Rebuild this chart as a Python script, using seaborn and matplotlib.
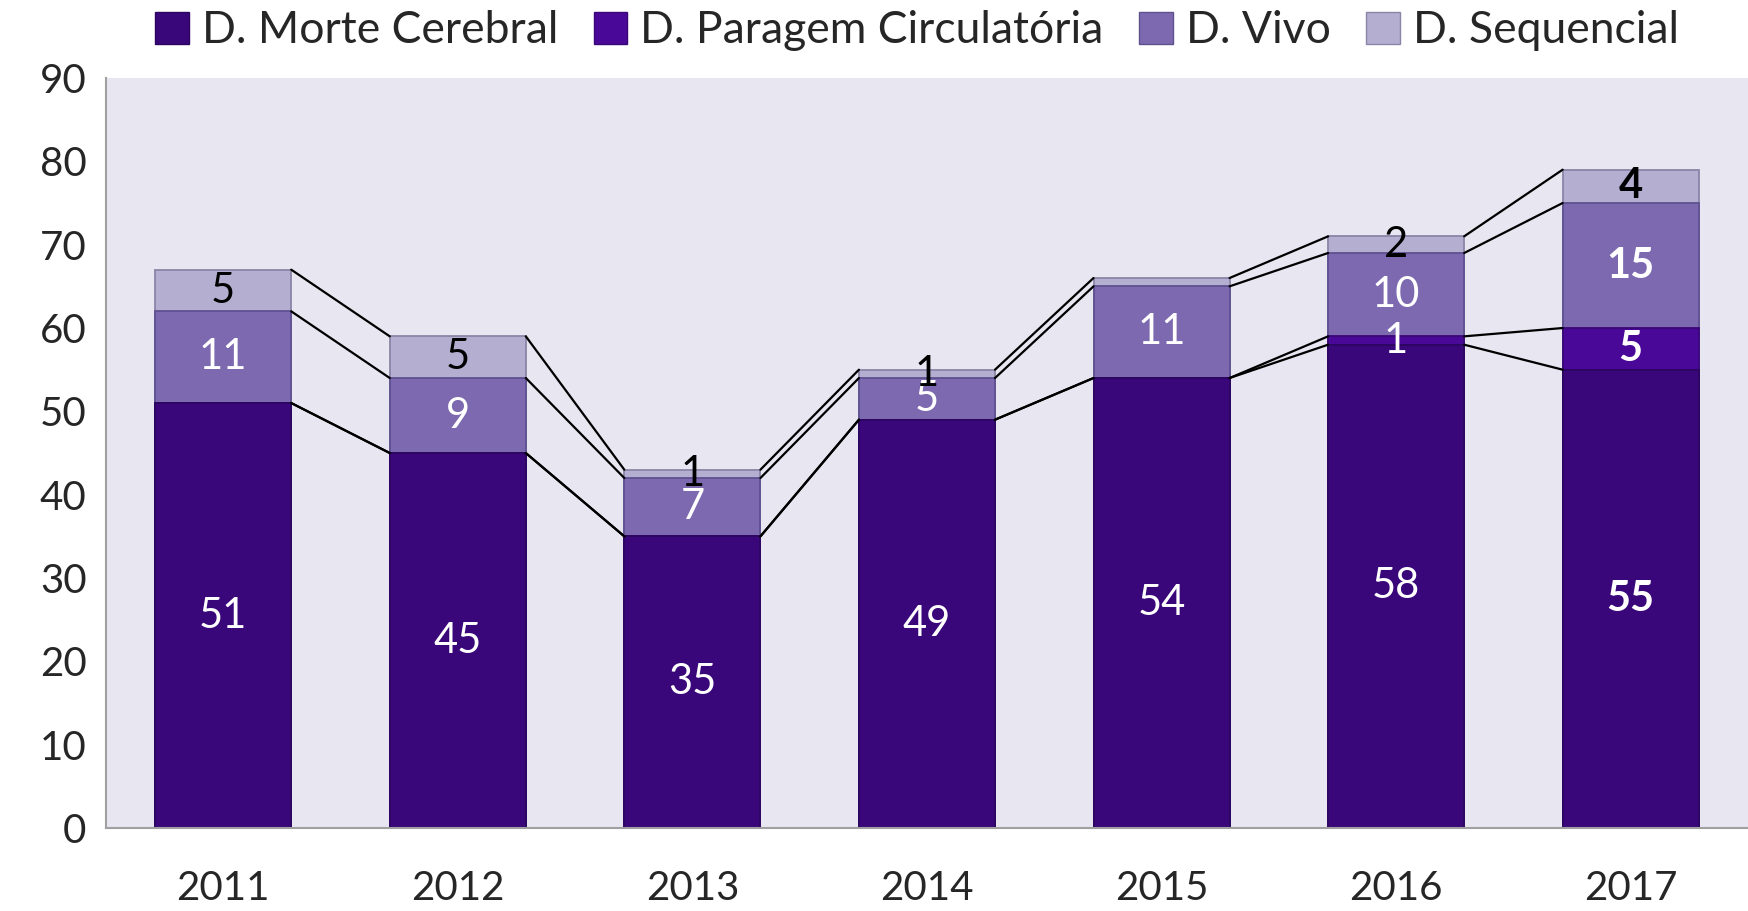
import matplotlib
matplotlib.use("Agg")
import matplotlib.pyplot as plt
import seaborn as sns
import pandas as pd
import numpy as np
from matplotlib.patches import Patch

years = ['2011', '2012', '2013', '2014', '2015', '2016', '2017']
morte = [51, 45, 35, 49, 54, 58, 55]
paragem = [0, 0, 0, 0, 0, 1, 5]
vivo = [11, 9, 7, 5, 11, 10, 15]
seq = [5, 5, 1, 1, 1, 2, 4]
seq_shown = [True, True, True, True, False, True, True]

names = ['D. Morte Cerebral', 'D. Paragem Circulatória', 'D. Vivo', 'D. Sequencial']
colors = ['#39077a', '#4a0898', '#7d69b0', '#b4aed0']
edges = ['#2c0560', '#3a0778', '#5f5090', '#8a85a6']
text_colors = ['white', 'white', 'white', 'black']

sns.set_theme(style="white")
plt.rcParams['font.family'] = ['Lato', 'DejaVu Sans']

series = [morte, paragem, vivo, seq]
tops = np.cumsum(np.array(series), axis=0)

fig = plt.figure(figsize=(17.48, 9.11), dpi=100)
ax = fig.add_axes([0.0606, 0.091, 0.9394, 0.8234])
ax.set_facecolor('#e8e6f0')

width = 0.58
# draw cumulative totals from top series down so lower ones sit on top
for k in range(3, -1, -1):
    df = pd.DataFrame({'year': years, 'val': tops[k]})
    sns.barplot(data=df, x='year', y='val', color=colors[k], saturation=1,
                width=width, edgecolor=edges[k], linewidth=1.3, ax=ax)

# series lines between bars
for k in range(4):
    for i in range(len(years) - 1):
        ax.plot([i + width / 2, i + 1 - width / 2], [tops[k][i], tops[k][i + 1]],
                color='black', lw=1.6, zorder=1)

# data labels
for k in range(4):
    for i, v in enumerate(series[k]):
        if v == 0:
            continue
        if k == 3 and not seq_shown[i]:
            continue
        y = tops[k][i] - v / 2
        ax.text(i, y, str(v), ha='center', va='center', fontsize=30,
                color=text_colors[k],
                fontweight='bold' if years[i] == '2017' else 'normal', zorder=5)

ax.set_xlim(-0.5, 6.5)
ax.set_ylim(0, 90)
ax.set_yticks(range(0, 91, 10))
ax.set_xlabel('')
ax.set_ylabel('')
ax.tick_params(axis='y', labelsize=29, length=0, pad=14)
ax.tick_params(axis='x', labelsize=29, length=0, pad=30)
for s in ['top', 'right']:
    ax.spines[s].set_visible(False)
for s in ['left', 'bottom']:
    ax.spines[s].set_color('#a0a0a0')
    ax.spines[s].set_linewidth(1.5)

handles = [Patch(facecolor=c, edgecolor=e, label=n) for c, e, n in zip(colors, edges, names)]
ax.legend(handles=handles, loc='lower center', bbox_to_anchor=(0.494, 1.0), ncol=4,
          frameon=False, fontsize=32, handlelength=0.75, handleheight=0.75,
          handletextpad=0.3, columnspacing=0.8, borderaxespad=0.2)

fig.savefig('out.png', dpi=100)
